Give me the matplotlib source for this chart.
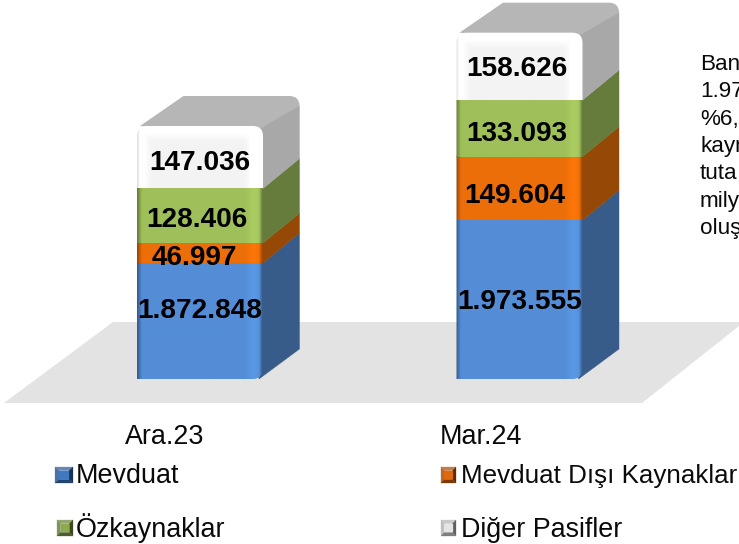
"""Stacked pseudo-3D column chart: bank liabilities, Ara.23 vs Mar.24."""

import numpy as np
import matplotlib
matplotlib.use("Agg")
import matplotlib.pyplot as plt
from matplotlib.patches import PathPatch, Polygon
from matplotlib.path import Path

plt.rcParams["font.family"] = ["Liberation Sans", "DejaVu Sans"]

# ---------------------------------------------------------------------------
# Data
# ---------------------------------------------------------------------------
periods = ["Ara.23", "Mar.24"]
series_names = ["Mevduat", "Mevduat Dışı Kaynakları", "Özkaynaklar", "Diğer Pasifler"]
mevduat = [1872848, 1973555]
mevduat_disi = [46997, 149604]
ozkaynaklar = [128406, 133093]
diger = [147036, 158626]
side_note = ["Ban", "1.97", "%6,", "kayn", "tuta", "mily", "oluş"]

# ---------------------------------------------------------------------------
# Styles and layout (pixels are 1:1 with the 739x544 output)
# ---------------------------------------------------------------------------
W, H = 739, 544
front_cols = ["#548DD6", "#EC6E08", "#9FBF5A", "#F3F3F3"]
side_cols = ["#375C8A", "#964806", "#657C3C", "#A8A8A8"]
swatch_cols = ["#3F79C4", "#E0680A", "#8CAB4E", "#E4E4E4"]
legend_sizes = [19.4, 18.75, 19.4, 19.4]
cap_col = "#B6B6B6"
floor_col = "#E3E3E3"

base = 1600000.0
px_per_unit = 0.425 / 1000
y_zero_px = 379
x0_px, dx_px = 200.0, 319.5
bar_w_px, depth_x_px, depth_y_px = 126.0, 36.5, 30.0

# label nudges in pixels (dx, dy) per period, per series
nudges = [
    [(0, 10), (-6, -5), (-3, -4), (0, -6)],
    [(0, -2), (-5, -8), (-3, -6), (-3, -3)],
]

fig = plt.figure(figsize=(W / 100, H / 100), dpi=100)

# background layer in pixel coordinates: floor, text, legend
bg = fig.add_axes([0, 0, 1, 1])
bg.set_xlim(0, W)
bg.set_ylim(H, 0)
bg.axis("off")
bg.add_patch(Polygon([(4, 403), (113, 322), (739, 322), (739, 326), (642, 403)],
                     fc=floor_col, ec="none"))

# bar layer: x in category position, y in value
ax = fig.add_axes([0, 0, 1, 1])
ax.patch.set_alpha(0)
ax.axis("off")
ax.set_xlim(-x0_px / dx_px, (W - x0_px) / dx_px)
ax.set_ylim(base - (H - y_zero_px) / px_per_unit, base + y_zero_px / px_per_unit)

bar_w = bar_w_px / dx_px
depth_x = depth_x_px / dx_px
depth_y = depth_y_px / px_per_unit
rx, ry = 10.0 / dx_px, 10.0 / px_per_unit


def rounded_front(xl, xr, y0, y1):
    # rounded on the two top corners and the bottom right
    verts = [(xl, y0), (xr - rx, y0), (xr, y0), (xr, y0 + ry),
             (xr, y1 - ry), (xr, y1), (xr - rx, y1),
             (xl + rx, y1), (xl, y1), (xl, y1 - ry), (xl, y0)]
    codes = [Path.MOVETO, Path.LINETO, Path.CURVE3, Path.CURVE3,
             Path.LINETO, Path.CURVE3, Path.CURVE3,
             Path.LINETO, Path.CURVE3, Path.CURVE3, Path.LINETO]
    return Path(verts, codes)


def face_image(color, h_px, is_top):
    rgb = np.array(matplotlib.colors.to_rgb(color))
    w_px = int(bar_w_px)
    u = np.arange(w_px) + 0.5
    prof = np.ones(w_px)
    prof *= 0.62 + 0.38 * np.clip(u / 5.0, 0, 1)
    prof *= 1 + 0.07 * np.exp(-((u - (w_px - 9)) / 6.0) ** 2)
    prof *= 0.60 + 0.40 * np.clip((w_px - u) / 4.0, 0, 1)
    img = np.clip(rgb[None, None, :] * prof[None, :, None], 0, 1)
    img = np.repeat(img, max(int(h_px), 1), axis=0)
    if is_top:
        # soft white bevel round the light top segment
        v = np.arange(img.shape[0]) + 0.5
        top = np.clip((16 - v) / 8.0, 0, 1)[:, None]
        sides = np.clip((15 - np.minimum(u, w_px - u)) / 8.0, 0, 1)[None, :]
        mix = np.maximum(top, sides)[:, :, None]
        img = img * (1 - mix) + mix
        edge = np.clip(u / 3.0, 0, 1)[None, :, None]
        img = img * (0.86 + 0.14 * edge)
    return img


stack = [mevduat, mevduat_disi, ozkaynaklar, diger]
for i in range(len(periods)):
    xl, xr = i - bar_w / 2, i + bar_w / 2
    total = sum(s[i] for s in stack)
    clip = PathPatch(rounded_front(xl, xr, base, total), transform=ax.transData,
                     fc="none", ec="none")
    ax.add_patch(clip)

    # top cap with rounded back corners
    back_top = total + depth_y
    cap = Path([(xl + rx * 0.3, total), (xl + depth_x + rx, back_top),
                (xr + depth_x - rx, back_top), (xr + depth_x, back_top),
                (xr + depth_x, back_top - ry), (xr - rx, total - ry), (xl + rx * 0.3, total)],
               [Path.MOVETO, Path.LINETO, Path.LINETO, Path.CURVE3, Path.CURVE3,
                Path.LINETO, Path.CLOSEPOLY])
    ax.add_patch(PathPatch(cap, fc=cap_col, ec="none", zorder=1))

    bottom = base
    for j, s in enumerate(stack):
        top = s[i] if j == 0 else bottom + s[i]
        # side face, its front edge tucked behind the front face
        side_top = top + depth_y
        if j == len(stack) - 1:
            side_top = top + depth_y - ry
        inset = 6.0 / dx_px
        slope_back = inset / depth_x * depth_y
        front_low = bottom if j == 0 else bottom - slope_back
        low_x = xr - rx * 0.4 if j == 0 else xr - inset
        ax.add_patch(Polygon([(low_x, front_low),
                              (xr + depth_x, bottom + depth_y),
                              (xr + depth_x, side_top),
                              (xr - inset, top - slope_back)],
                             fc=side_cols[j], ec=side_cols[j], lw=0.3, zorder=2 + 0.1 * j))
        # front face
        h_px = (top - bottom) * px_per_unit
        im = ax.imshow(face_image(front_cols[j], h_px, j == len(stack) - 1),
                       extent=[xl, xr, bottom, top], aspect="auto", origin="upper",
                       interpolation="bilinear", zorder=3)
        im.set_clip_path(clip)
        # value label
        ndx, ndy = nudges[i][j]
        ax.annotate(f"{s[i]:,}".replace(",", "."), (i, (bottom + top) / 2),
                    xytext=(ndx * 0.72, ndy * 0.72), textcoords="offset points",
                    ha="center", va="center", fontsize=20.2, fontweight="bold",
                    color="black", zorder=5)
        bottom = top

ax.set_xlim(-x0_px / dx_px, (W - x0_px) / dx_px)
ax.set_ylim(base - (H - y_zero_px) / px_per_unit, base + y_zero_px / px_per_unit)

# ---------------------------------------------------------------------------
# Category labels, side note, legend
# ---------------------------------------------------------------------------
for name, x in zip(periods, [125, 440]):
    bg.text(x, 444, name, fontsize=19.4, color="#0A0A0A", ha="left", va="baseline")

for k, line in enumerate(side_note):
    bg.text(700, 70 + 27.33 * k, line, fontsize=16.2, color="#0A0A0A",
            ha="left", va="baseline")


def swatch(x0, y0, x1, y1, color):
    rgb = np.array(matplotlib.colors.to_rgb(color))
    cx, cy = (x0 + x1) / 2, (y0 + y1) / 2
    m = 0.45
    ix0, ix1 = x0 + (cx - x0) * m, x1 - (x1 - cx) * m
    iy0, iy1 = y0 + (cy - y0) * m, y1 - (y1 - cy) * m
    faces = [
        ([(x0, y0), (x1, y0), (ix1, iy0), (ix0, iy0)], rgb * 0.6 + 0.25),
        ([(x0, y0), (ix0, iy0), (ix0, iy1), (x0, y1)], rgb * 0.7 + 0.12),
        ([(x1, y0), (ix1, iy0), (ix1, iy1), (x1, y1)], rgb * 0.42),
        ([(x0, y1), (ix0, iy1), (ix1, iy1), (x1, y1)], rgb * 0.55),
        ([(ix0, iy0), (ix1, iy0), (ix1, iy1), (ix0, iy1)], rgb),
    ]
    for pts, c in faces:
        bg.add_patch(Polygon(pts, fc=c, ec=c, lw=0.2))


swatch(55, 467, 73, 483, swatch_cols[0])
swatch(441, 467, 456, 483, swatch_cols[1])
swatch(57, 520, 73, 536, swatch_cols[2])
swatch(441, 520, 456, 536, swatch_cols[3])

for name, x, y, fs in zip(series_names, [76, 461, 76, 461], [483, 483, 537, 537], legend_sizes):
    bg.text(x, y, name, fontsize=fs, color="#0A0A0A", ha="left", va="baseline")

fig.savefig("out.png", dpi=100)
